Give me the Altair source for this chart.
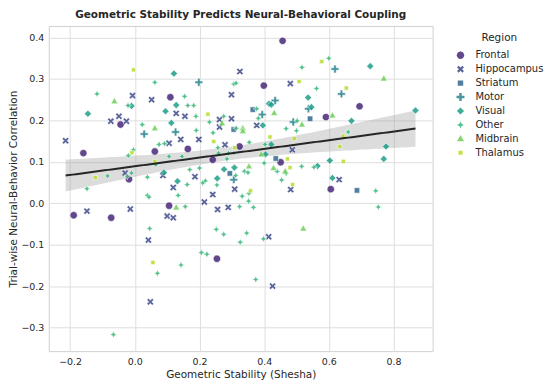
import numpy as np
import pandas as pd
import altair as alt

regions = ["Frontal", "Hippocampus", "Striatum", "Motor", "Visual", "Other", "Midbrain", "Thalamus"]
colors = ["#482878", "#3e4989", "#31688e", "#26828e", "#1f9e89", "#35b779", "#6ece58", "#b5de2b"]

frontal_x = [-0.044, 0.110, -0.159, 0.062, -0.018, -0.189, -0.073, 0.106, 0.457, 0.399, 0.164, 0.324, 0.241, 0.451, 0.695, 0.591, 0.606, 0.254]
frontal_y = [0.190, 0.256, 0.121, 0.125, 0.058, -0.029, -0.035, -0.006, 0.392, 0.284, 0.131, 0.137, 0.105, 0.099, 0.234, 0.208, 0.034, -0.134]

hippo_x = [-0.007, 0.052, -0.049, -0.074, -0.026, -0.214, 0.087, -0.030, -0.148, -0.014, 0.042, 0.100, 0.325, 0.299, 0.128, 0.155, 0.299, 0.262, 0.262, 0.377,
           0.142, 0.198, 0.106, 0.279, 0.186, 0.119, 0.309, 0.241, 0.215, 0.256, 0.289, 0.119, 0.414, 0.481, 0.487, 0.632, 0.482, 0.048, 0.426]
hippo_y = [0.260, 0.250, 0.210, 0.198, 0.198, 0.151, 0.067, 0.073, -0.019, -0.014, -0.089, -0.031, 0.318, 0.262, 0.217, 0.210, 0.204, 0.202, 0.184, 0.188,
           0.154, 0.154, 0.145, 0.141, 0.064, 0.038, 0.034, 0.021, 0.003, -0.015, -0.010, -0.035, -0.081, 0.289, 0.129, 0.057, 0.033, -0.238, -0.200]

striatum_x = [0.365, 0.306, 0.436, 0.294, 0.542, 0.687]
striatum_y = [0.226, 0.178, 0.108, 0.072, 0.204, 0.031]

motor_x = [0.029, 0.198, 0.434, 0.394, 0.126, 0.306, 0.619, 0.639, 0.537, 0.490]
motor_y = [0.167, 0.292, 0.248, 0.214, 0.172, 0.057, 0.324, 0.264, 0.228, 0.196]

visual_x = [-0.010, -0.145, 0.095, 0.090, 0.121, 0.128, 0.415, 0.422, 0.396, 0.113, 0.422, 0.404, 0.276, 0.308, 0.255, 0.132,
            0.728, 0.536, 0.546, 0.670, 0.777, 0.565, 0.603, 0.770, 0.611, 0.868]
visual_y = [0.235, 0.216, 0.222, 0.074, 0.313, 0.237, 0.240, 0.238, 0.188, 0.194, 0.142, 0.118, 0.082, 0.086, 0.060, 0.053,
            0.331, 0.255, 0.232, 0.199, 0.137, 0.090, 0.103, 0.107, 0.061, 0.224]

midbrain_x = [-0.063, 0.062, 0.270, 0.431, 0.334, 0.334, 0.391, 0.353, 0.429, 0.465, 0.128, 0.770, 0.611, 0.517, 0.521]
midbrain_y = [0.246, 0.181, 0.193, 0.218, 0.181, 0.174, 0.118, 0.089, 0.085, 0.077, -0.010, 0.301, 0.212, 0.190, -0.061]

thalamus_x = [-0.004, -0.009, 0.062, -0.122, 0.226, 0.418, 0.244, 0.309, 0.358, 0.578, 0.508, 0.654, 0.493, 0.644, 0.634, 0.472, 0.480, 0.645, 0.488, 0.056]
thalamus_y = [0.322, 0.122, 0.101, 0.062, 0.215, 0.160, 0.149, 0.134, 0.030, 0.342, 0.294, 0.278, 0.156, 0.162, 0.137, 0.107, 0.086, 0.101, 0.045, -0.143]

other_x = [0.062, -0.117, -0.021, 0.023, -0.004, -0.020, 0.075, 0.092, 0.065, -0.010, -0.023, -0.084, -0.148, 0.039, 0.039, 0.044, 0.046,
           0.306, 0.313, 0.154, 0.164, 0.182, 0.189, 0.275, 0.231, 0.377, 0.382, 0.314, 0.190, 0.242, 0.468, 0.354, 0.403,
           0.106, 0.146, 0.257, 0.259, 0.290, 0.306, 0.285, 0.400, 0.440, 0.170, 0.200, 0.339, 0.350, 0.312, 0.218, 0.210,
           0.162, 0.254, 0.454, 0.353, 0.134, 0.332, 0.352, 0.156, 0.324, 0.367, 0.252, 0.275, 0.346, 0.398, 0.326, 0.206,
           0.223, 0.600, 0.517, 0.562, 0.502, 0.500, 0.660, 0.516, 0.554, 0.745, 0.753, 0.070, 0.143, 0.374, -0.066, 0.468]
other_y = [0.292, 0.264, 0.236, 0.190, 0.129, 0.115, 0.142, 0.144, 0.093, 0.073, 0.065, 0.066, 0.035, 0.063, 0.019, 0.015, -0.061,
           0.288, 0.290, 0.258, 0.236, 0.236, 0.210, 0.210, 0.196, 0.228, 0.205, 0.181, 0.176, 0.170, 0.180, 0.147, 0.142,
           0.113, 0.113, 0.134, 0.121, 0.121, 0.121, 0.107, 0.097, 0.077, 0.081, 0.085, 0.077, 0.074, 0.067, 0.054, 0.049,
           0.045, 0.044, 0.056, 0.024, 0.019, 0.017, 0.005, -0.008, -0.008, -0.010, -0.063, -0.075, -0.072, -0.086, -0.094, -0.119,
           -0.123, 0.350, 0.328, 0.277, 0.199, 0.175, 0.172, 0.089, 0.087, 0.030, -0.009, -0.169, -0.149, -0.184, -0.317, 0.072]

series = {
    "Frontal": (frontal_x, frontal_y),
    "Hippocampus": (hippo_x, hippo_y),
    "Striatum": (striatum_x, striatum_y),
    "Motor": (motor_x, motor_y),
    "Visual": (visual_x, visual_y),
    "Other": (other_x, other_y),
    "Midbrain": (midbrain_x, midbrain_y),
    "Thalamus": (thalamus_x, thalamus_y),
}

rows = []
for r, (xs, ys) in series.items():
    for a, b in zip(xs, ys):
        rows.append({"Region": r, "x": a, "y": b})
df = pd.DataFrame(rows)

# regression line with 95% confidence band (computed from the data)
X = df["x"].to_numpy()
Y = df["y"].to_numpy()
n = len(X)
slope, intercept = np.polyfit(X, Y, 1)
resid = Y - (intercept + slope * X)
s = np.sqrt(np.sum(resid ** 2) / (n - 2))
xm = X.mean()
sxx = np.sum((X - xm) ** 2)
grid = np.linspace(X.min(), X.max(), 100)
fit = intercept + slope * grid
se = s * np.sqrt(1.0 / n + (grid - xm) ** 2 / sxx)
reg = pd.DataFrame({"x": grid, "fit": fit, "lo": fit - 1.97 * se, "hi": fit + 1.97 * se})

# marker outlines (unit coordinates, all drawn at one symbol size)
circle_p = "M-0.74,0A0.74,0.74,0,1,1,0.74,0A0.74,0.74,0,1,1,-0.74,0Z"
x_p = "M0.376,-0.698L0.698,-0.376L0.322,0L0.698,0.376L0.376,0.698L0,0.322L-0.376,0.698L-0.698,0.376L-0.322,0L-0.698,-0.376L-0.376,-0.698L0,-0.322Z"
square_p = "M-0.55,-0.55L0.55,-0.55L0.55,0.55L-0.55,0.55Z"
plus_p = "M-0.25,-0.8L0.25,-0.8L0.25,-0.25L0.8,-0.25L0.8,0.25L0.25,0.25L0.25,0.8L-0.25,0.8L-0.25,0.25L-0.8,0.25L-0.8,-0.25L-0.25,-0.25Z"
diamond_p = "M0,-0.72L0.72,0L0,0.72L-0.72,0Z"
star_p = "M0,-0.7L0.22,-0.22L0.7,0L0.22,0.22L0,0.7L-0.22,0.22L-0.7,0L-0.22,-0.22Z"
tri_p = "M0,-0.75L0.7,0.5L-0.7,0.5Z"
small_sq_p = "M-0.42,-0.42L0.42,-0.42L0.42,0.42L-0.42,0.42Z"
shapes = [circle_p, x_p, square_p, plus_p, diamond_p, star_p, tri_p, small_sq_p]

xscale = alt.Scale(domain=[-0.266, 0.921], nice=False, zero=False)
yscale = alt.Scale(domain=[-0.357, 0.428], nice=False, zero=False)

xaxis = alt.Axis(title="Geometric Stability (Shesha)", values=[-0.2, 0.0, 0.2, 0.4, 0.6, 0.8], format=".1f")
yaxis = alt.Axis(title="Trial-wise Neural-Behavior Correlation", values=[-0.3, -0.2, -0.1, 0.0, 0.1, 0.2, 0.3, 0.4], format=".1f")

band = alt.Chart(reg).mark_area(color="#9a9a9a", opacity=0.35).encode(
    x=alt.X("x:Q", scale=xscale, axis=xaxis),
    y=alt.Y("lo:Q", scale=yscale, axis=yaxis),
    y2="hi:Q",
)

points = alt.Chart(df).mark_point(filled=True, opacity=0.85, stroke="white", strokeWidth=0.6, size=100).encode(
    x=alt.X("x:Q", scale=xscale, axis=xaxis),
    y=alt.Y("y:Q", scale=yscale, axis=yaxis),
    color=alt.Color("Region:N", scale=alt.Scale(domain=regions, range=colors), title="Region"),
    shape=alt.Shape("Region:N", scale=alt.Scale(domain=regions, range=shapes), title="Region"),
)

line = alt.Chart(reg).mark_line(color="#262626", strokeWidth=2).encode(
    x=alt.X("x:Q", scale=xscale, axis=xaxis),
    y=alt.Y("fit:Q", scale=yscale, axis=yaxis),
)

chart = alt.layer(band, points, line).properties(
    width=386,
    height=327,
    autosize=alt.AutoSizeParams(type="none"),
    padding={"left": 41, "top": 17, "right": 115, "bottom": 32},
    title=alt.TitleParams(
        "Geometric Stability Predicts Neural-Behavioral Coupling",
        fontSize=10.5, fontWeight="bold", font="DejaVu Sans", color="#262626",
        anchor="middle", frame="group", offset=5,
    ),
).configure_view(
    stroke="#d0d0d0", strokeWidth=1
).configure_axis(
    domain=False, ticks=False, grid=True, gridColor="#dedede", gridWidth=1,
    labelFont="DejaVu Sans", labelFontSize=9.5, labelColor="#262626", labelPadding=5,
    titleFont="DejaVu Sans", titleFontSize=10.5, titleFontWeight="normal", titleColor="#262626",
).configure_axisX(titlePadding=4).configure_axisY(titlePadding=2).configure_legend(
    orient="none", legendX=409, legendY=7,
    titleFont="DejaVu Sans", titleFontSize=10.5, titleFontWeight="normal", titleColor="#262626",
    titleAnchor="middle", titlePadding=6,
    labelFont="DejaVu Sans", labelFontSize=10, labelColor="#262626", labelOffset=10,
    clipHeight=12, rowPadding=2, symbolSize=100, symbolStrokeWidth=0, symbolOpacity=0.85,
)

chart.save("out.html", embed_options={"renderer": "svg", "actions": False})
